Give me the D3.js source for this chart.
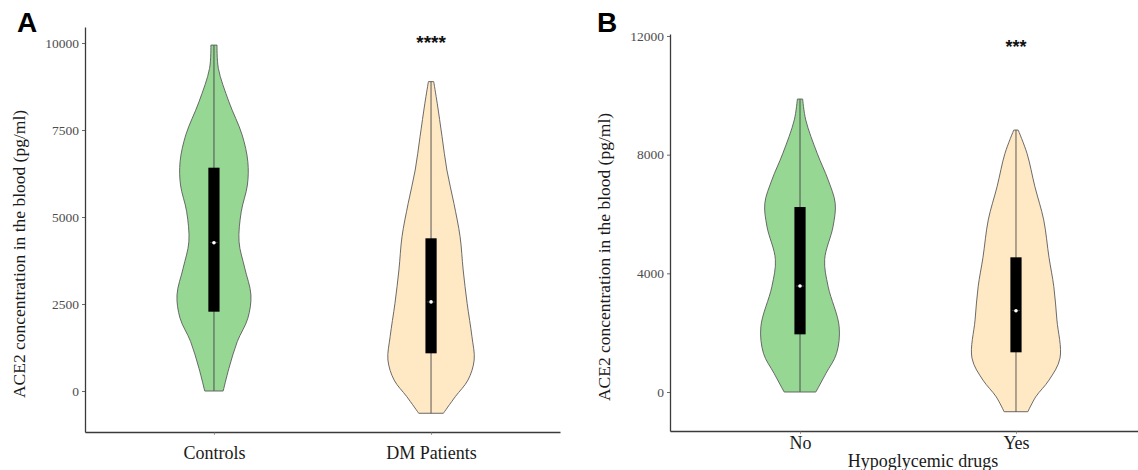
<!DOCTYPE html>
<html>
<head>
<meta charset="utf-8">
<script src="https://cdn.jsdelivr.net/npm/d3@7"></script>
<style>
  html, body { margin: 0; padding: 0; background: #fff; }
  svg { display: block; }
</style>
</head>
<body>
<svg id="chart" width="1138" height="470"></svg>
<script>
// ---------------- DATA ----------------
// Panel A
const panelACategories = ["Controls", "DM Patients"];
const panelAYTicks = [0, 2500, 5000, 7500, 10000];
const panelASignificance = "****";

// violin outlines: value along the y axis, relative density (half-width)
const controlsViolinValues  = [9940, 9270, 8310, 7360, 6590, 5920, 5150, 4290, 3530, 2760, 2090, 1420, 650, 0];
const controlsViolinDensity = [0.07, 0.10, 0.34, 0.64, 0.77, 0.76, 0.62, 0.57, 0.70, 0.84, 0.77, 0.53, 0.34, 0.21];
const dmViolinValues  = [8890, 8270, 7310, 6350, 5390, 4435, 3480, 2520, 1560, 890, 316, -164, -640];
const dmViolinDensity = [0.06, 0.14, 0.25, 0.36, 0.52, 0.66, 0.73, 0.82, 0.93, 0.98, 0.84, 0.55, 0.28];

// box summaries: [q1, median, q3]
const panelABoxQ1     = [2279, 1083];
const panelABoxMedian = [4261, 2560];
const panelABoxQ3     = [6417, 4388];

// Panel B
const panelBCategories = ["No", "Yes"];
const panelBYTicks = [0, 4000, 8000, 12000];
const panelBSignificance = "***";
const panelBXTitle = "Hypoglycemic drugs";

const noViolinValues  = [9875, 9170, 8045, 7145, 6360, 5570, 4470, 3550, 2200, 1300, 630, 0];
const noViolinDensity = [0.06, 0.13, 0.39, 0.64, 0.80, 0.75, 0.56, 0.64, 0.89, 0.83, 0.59, 0.36];
const yesViolinValues  = [8830, 8045, 6920, 5800, 4540, 3550, 2430, 1140, 400, -160, -664];
const yesViolinDensity = [0.05, 0.25, 0.43, 0.63, 0.75, 0.86, 0.93, 1.00, 0.75, 0.45, 0.27];

const panelBBoxQ1     = [1944, 1338];
const panelBBoxMedian = [3573, 2740];
const panelBBoxQ3     = [6235, 4540];

const yTitle = "ACE2 concentration in the blood (pg/ml)";
const fillColors = ["#96d794", "#ffe8c4"];

// ---------------- DRAW ----------------
const svg = d3.select("#chart");
const serif = "'Liberation Serif', 'Times New Roman', serif";
const sans = "'Liberation Sans', Arial, sans-serif";

function drawPanel(cfg) {
  const g = svg.append("g");
  const x = d3.scalePoint().domain(cfg.categories).range(cfg.xRange).padding(cfg.xPad);
  const y = d3.scaleLinear().domain(cfg.yDomain).range(cfg.yRange);
  const w = d3.scaleLinear().domain([0, 1]).range([0, 44]);

  // violins
  cfg.categories.forEach((cat, i) => {
    const vals = cfg.violinValues[i], dens = cfg.violinDensity[i];
    const pts = vals.map((v, k) => ({ v: v, d: dens[k] }));
    const cx = x(cat);
    const area = d3.area()
      .y(d => y(d.v))
      .x0(d => cx - w(d.d))
      .x1(d => cx + w(d.d))
      .curve(d3.curveCatmullRom.alpha(0.5));
    g.append("path")
      .attr("d", area(pts))
      .attr("fill", fillColors[i])
      .attr("stroke", "#5a5a5a")
      .attr("stroke-width", 0.9);
    // whisker line through the violin
    g.append("line")
      .attr("x1", cx).attr("x2", cx)
      .attr("y1", y(d3.max(vals))).attr("y2", y(d3.min(vals)))
      .attr("stroke", i === 0 ? "#5f6f5f" : "#4a4a4a")
      .attr("stroke-width", i === 0 ? 1.3 : 0.9);
    // box
    g.append("rect")
      .attr("x", cx - 5.6).attr("width", 11.2)
      .attr("y", y(cfg.q3[i])).attr("height", y(cfg.q1[i]) - y(cfg.q3[i]))
      .attr("fill", "#000");
    // median
    g.append("line")
      .attr("x1", cx - 4).attr("x2", cx + 4)
      .attr("y1", y(cfg.median[i])).attr("y2", y(cfg.median[i]))
      .attr("stroke", "#fff").attr("stroke-width", 0.4).attr("opacity", 0.6);
    g.append("circle")
      .attr("cx", cx).attr("cy", y(cfg.median[i])).attr("r", 1.8)
      .attr("fill", "#fff");
  });

  // y axis
  const yAxis = d3.axisLeft(y).tickValues(cfg.yTicks).tickSizeInner(3).tickSizeOuter(0)
    .tickPadding(3).tickFormat(d3.format("d"));
  const ya = g.append("g").attr("transform", `translate(${cfg.xRange[0]},0)`).call(yAxis);
  ya.select(".domain").attr("stroke", "#3a3a3a").attr("stroke-width", 1.3);
  ya.selectAll(".tick line").attr("stroke", "#444").attr("stroke-width", 0.8);
  ya.selectAll(".tick text").attr("font-family", serif).attr("font-size", 13.5).attr("fill", "#4d4d4d");

  // x axis
  const xAxis = d3.axisBottom(x).tickSizeInner(3).tickSizeOuter(0).tickPadding(cfg.xTickPad);
  const xa = g.append("g").attr("transform", `translate(0,${cfg.yRange[0]})`).call(xAxis);
  xa.select(".domain").attr("stroke", "#3a3a3a").attr("stroke-width", 1.3);
  xa.selectAll(".tick line").attr("stroke", "#666").attr("stroke-width", 0.6);
  xa.selectAll(".tick text").attr("font-family", serif).attr("font-size", 18).attr("fill", "#1a1a1a");

  // y title
  g.append("text")
    .attr("transform", `translate(${cfg.yTitleX},${cfg.yTitleY}) rotate(-90)`)
    .attr("text-anchor", "middle")
    .attr("font-family", serif).attr("font-size", 17.5).attr("fill", "#1a1a1a")
    .text(yTitle);

  // significance
  g.append("text")
    .attr("x", x(cfg.categories[1])).attr("y", cfg.sigY)
    .attr("text-anchor", "middle")
    .attr("font-family", sans).attr("font-weight", "bold").attr("font-size", cfg.sigSize).attr("fill", "#111")
    .text(cfg.sig);

  // panel letter
  g.append("text")
    .attr("x", cfg.letterX).attr("y", 32)
    .attr("font-family", sans).attr("font-weight", "bold").attr("font-size", 28).attr("fill", "#000")
    .text(cfg.letter);

  if (cfg.xTitle) {
    g.append("text")
      .attr("x", cfg.xTitleX).attr("y", 467)
      .attr("text-anchor", "middle")
      .attr("font-family", serif).attr("font-size", 18).attr("fill", "#1a1a1a")
      .text(cfg.xTitle);
  }
}

drawPanel({
  categories: panelACategories,
  xRange: [85, 560], xPad: 0.594,
  yDomain: [-1178, 10460], yRange: [432, 27],
  yTicks: panelAYTicks,
  violinValues: [controlsViolinValues, dmViolinValues],
  violinDensity: [controlsViolinDensity, dmViolinDensity],
  q1: panelABoxQ1, median: panelABoxMedian, q3: panelABoxQ3,
  sig: panelASignificance, sigY: 49, sigSize: 19,
  letter: "A", letterX: 17,
  yTitleX: 25, yTitleY: 254,
  xTickPad: 11
});

drawPanel({
  categories: panelBCategories,
  xRange: [670, 1146], xPad: 0.602,
  yDomain: [-1314, 12067], yRange: [431, 34],
  yTicks: panelBYTicks,
  violinValues: [noViolinValues, yesViolinValues],
  violinDensity: [noViolinDensity, yesViolinDensity],
  q1: panelBBoxQ1, median: panelBBoxMedian, q3: panelBBoxQ3,
  sig: panelBSignificance, sigY: 53, sigSize: 18,
  letter: "B", letterX: 597,
  yTitleX: 610, yTitleY: 257,
  xTickPad: 2,
  xTitle: panelBXTitle, xTitleX: 923
});
</script>
</body>
</html>
